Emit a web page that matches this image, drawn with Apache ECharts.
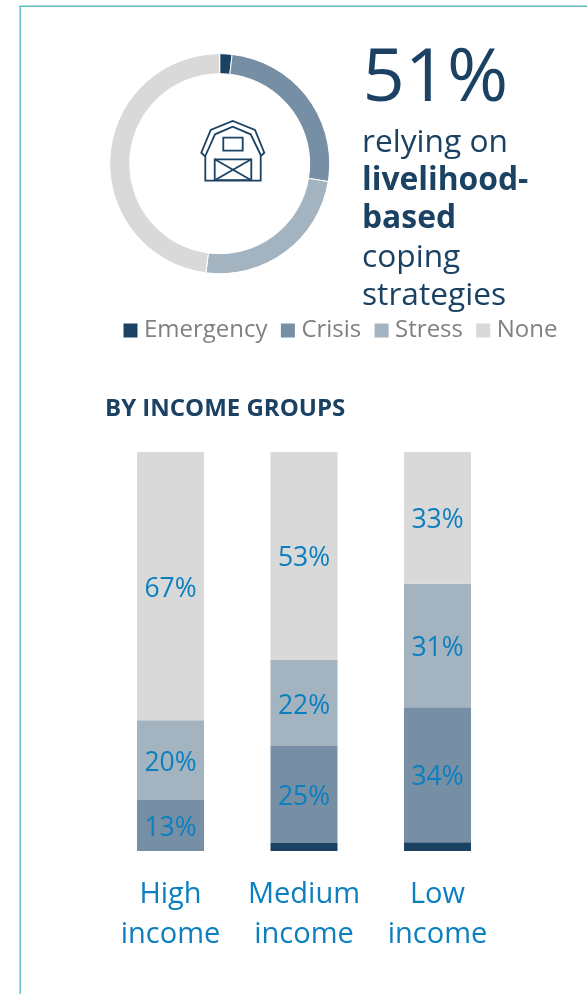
<!DOCTYPE html>
<html><head><meta charset="utf-8">
<style>html,body{margin:0;padding:0;background:#fff}#c{width:587px;height:994px}</style>
<script src="https://cdn.jsdelivr.net/npm/echarts@6/dist/echarts.min.js"></script>
</head><body><div id="c"></div>
<script>
const categories = ['High\nincome', 'Medium\nincome', 'Low\nincome'];
const seriesNames = ['Emergency', 'Crisis', 'Stress', 'None'];
const donutValues = [1.8, 25.8, 24.4, 48];
const emergency = [0, 2, 2.2];
const crisis = [12.8, 24.3, 33.8];
const stress = [20, 21.6, 31];
const none = [67.2, 52.1, 33];
const crisisLabels = ['13%', '25%', '34%'];
const stressLabels = ['20%', '22%', '31%'];
const noneLabels = ['67%', '53%', '33%'];
const colors = ['#1b4263', '#778fa4', '#a3b3c0', '#d9d9d9'];
const font = '"Open Sans"';
const navy = '#1b4263', blue = '#0b7fbf';

const chart = echarts.init(document.getElementById('c'), null, {renderer: 'canvas'});
function barSeries(name, data, color, labels) {
  return {
    name, type: 'bar', stack: 'total', data, barWidth: 67,
    itemStyle: {color},
    label: labels ? {show: true, position: 'inside', offset: [0, 3], fontFamily: font, fontSize: 26.5, color: blue,
      formatter: p => labels[p.dataIndex]} : {show: false},
    emphasis: {disabled: true}
  };
}
const iconLine = {stroke: navy, lineWidth: 1.8, fill: null, lineJoin: 'miter'};
function poly(points, closed) {
  return {type: closed ? 'polygon' : 'polyline', shape: {points}, style: iconLine, silent: true};
}
function txt(x, y, text, size, weight) {
  return {type: 'text', x, y, silent: true, style: {text, fontFamily: font, fontWeight: weight || 400, fontSize: size, fill: navy, verticalAlign: 'middle'}};
}
chart.setOption({
  animation: false,
  color: colors,
  legend: {
    data: seriesNames, left: 118.5, top: 313.5, itemWidth: 14, itemHeight: 14, itemGap: 13.3,
    icon: 'rect', selectedMode: false,
    textStyle: {fontFamily: font, fontSize: 24, color: '#808080', padding: [0, 0, 0, 1.5]}
  },
  grid: {left: 103.75, width: 400.5, top: 452, height: 399},
  xAxis: {
    type: 'category', data: categories,
    axisLine: {show: false}, axisTick: {show: false},
    axisLabel: {fontFamily: font, fontSize: 29, lineHeight: 40, color: blue, margin: 24, interval: 0}
  },
  yAxis: {type: 'value', min: 0, max: 100, show: false},
  series: [
    {
      type: 'pie', center: [219.7, 163.7], radius: [90, 110], startAngle: 90, clockwise: true,
      label: {show: false}, labelLine: {show: false}, silent: true,
      itemStyle: {borderColor: '#fff', borderWidth: 1},
      data: seriesNames.map((n, i) => ({name: n, value: donutValues[i], itemStyle: {color: colors[i]}}))
    },
    barSeries('Emergency', emergency, colors[0]),
    barSeries('Crisis', crisis, colors[1], crisisLabels),
    barSeries('Stress', stress, colors[2], stressLabels),
    barSeries('None', none, colors[3], noneLabels)
  ],
  graphic: [
    {type: 'line', shape: {x1: 20.2, y1: 6, x2: 20.2, y2: 994}, style: {stroke: '#5fb9c1', lineWidth: 1.4}, silent: true},
    {type: 'line', shape: {x1: 19.5, y1: 6.3, x2: 587, y2: 6.3}, style: {stroke: '#5fb9c1', lineWidth: 1.4}, silent: true},
    txt(362.5, 80, '51%', 74),
    txt(362, 143, 'relying on', 31.7),
    txt(362, 181, 'livelihood-', 31.8, 700),
    txt(362, 219, 'based', 31.8, 700),
    txt(362, 258, 'coping', 31.7),
    txt(362, 296, 'strategies', 31.7),
    txt(105, 409, 'BY INCOME GROUPS', 24, 700),
    poly([[205.3,180.7],[205.3,156.7],[201.3,152.7],[210.7,130],[232.7,121],[255,130],[264.3,152.7],[260.7,156],[260.7,180.7]], true),
    poly([[205.3,156],[215,134.3],[232.7,126.7],[250.7,134.3],[260.7,155]], false),
    {type: 'rect', shape: {x: 223.3, y: 137.7, width: 19.4, height: 13}, style: iconLine, silent: true},
    {type: 'rect', shape: {x: 214.7, y: 159.3, width: 36.6, height: 20.9}, style: iconLine, silent: true},
    poly([[214.7,159.3],[251.3,180.2]], false),
    poly([[251.3,159.3],[214.7,180.2]], false)
  ]
});
</script></body></html>
